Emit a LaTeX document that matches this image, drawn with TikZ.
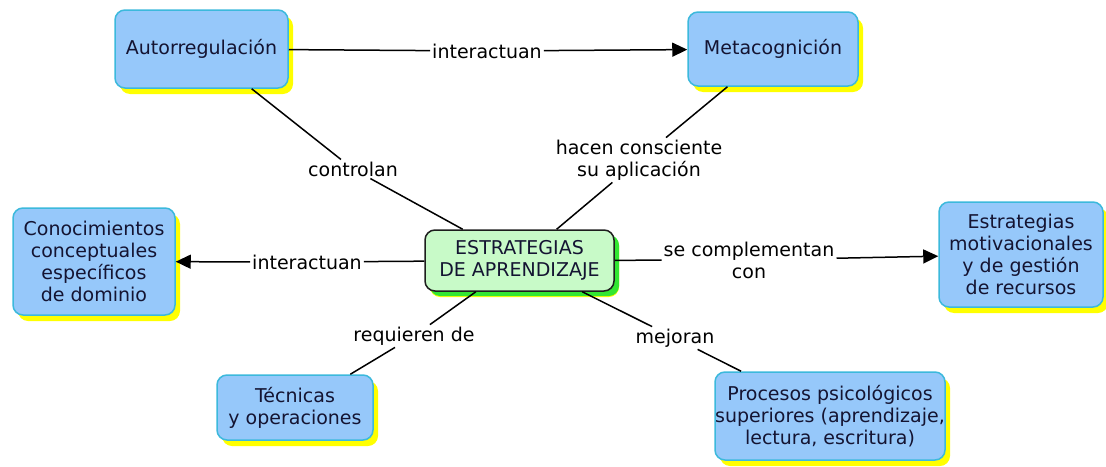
\documentclass[tikz,border=0pt]{standalone}
\usepackage{fontspec}
\setmainfont{DejaVu Sans}
\usetikzlibrary{arrows.meta,shadows}
\definecolor{conceptblue}{HTML}{96C8FA}
\definecolor{conceptedge}{HTML}{3CB9DC}
\definecolor{shadowyellow}{HTML}{FFFF00}
\definecolor{mainfill}{HTML}{C8FAC8}
\definecolor{mainedge}{HTML}{1E1E1E}
\definecolor{mainshadow}{HTML}{32E632}
\definecolor{inktext}{HTML}{141432}

\begin{document}
\begin{tikzpicture}[x=1pt,y=-1pt,
  font=\fontsize{19}{22}\selectfont,
  concept/.style={draw=conceptedge,line width=1.5pt,fill=conceptblue,rounded corners=10pt,
    align=center,text=inktext,inner sep=0pt,
    drop shadow={fill=shadowyellow,opacity=1,shadow xshift=5pt,shadow yshift=-6pt}},
  mainconcept/.style={concept,draw=mainedge,fill=mainfill,
    drop shadow={fill=mainshadow,opacity=1,shadow xshift=5pt,shadow yshift=-5pt}},
  link/.style={align=center,inner sep=2pt},
  conn/.style={line width=1.5pt},
  arr/.style={conn,-{Triangle[length=15pt,width=14pt]}}]
  \useasboundingbox (0,0) rectangle (1106,466);

  % Concepts
  \node[concept,minimum width=173,minimum height=78] (auto) at (201.5,49) {Autorregulación};
  \node[concept,minimum width=170,minimum height=74] (meta) at (773,49) {Metacognición};
  \node[concept,minimum width=162,minimum height=107] (cono) at (94,261.5) {Conocimientos\\conceptuales\\específicos\\de dominio};
  \node[mainconcept,minimum width=189,minimum height=61] (estr) at (519.5,260.5) {ESTRATEGIAS\\DE APRENDIZAJE};
  \node[concept,minimum width=164,minimum height=105] (moti) at (1021,254.5) {Estrategias\\motivacionales\\y de gestión\\de recursos};
  \node[concept,minimum width=230,minimum height=88] (proc) at (830,416) {Procesos psicológicos\\superiores (aprendizaje,\\lectura, escritura)};
  \node[concept,minimum width=156,minimum height=65] (tecn) at (295,407.5) {Técnicas\\y operaciones};

  % Linking words
  \node[link] (lint1) at (487,51) {interactuan};
  \node[link] (lcon) at (353,169) {controlan};
  \node[link] (lhac) at (639,160) {hacen consciente\\su aplicación};
  \node[link] (lint2) at (307,262) {interactuan};
  \node[link] (lcom) at (749,260) {se complementan\\con};
  \node[link] (lreq) at (414,336) {requieren de};
  \node[link] (lmej) at (675,338) {mejoran};

  % Connectors
  \draw[conn] (auto) -- (lint1);
  \draw[arr] (lint1) -- (meta);
  \draw[conn] (auto) -- (lcon);
  \draw[conn] (lcon) -- (estr);
  \draw[conn] (meta) -- (lhac);
  \draw[conn] (lhac) -- (estr);
  \draw[conn] (estr) -- (lint2);
  \draw[arr] (lint2) -- (cono);
  \draw[conn] (estr) -- (lcom);
  \draw[arr] (lcom) -- (moti);
  \draw[conn] (estr) -- (lreq);
  \draw[conn] (lreq) -- (tecn);
  \draw[conn] (estr) -- (lmej);
  \draw[conn] (lmej) -- (proc);
\end{tikzpicture}
\end{document}
